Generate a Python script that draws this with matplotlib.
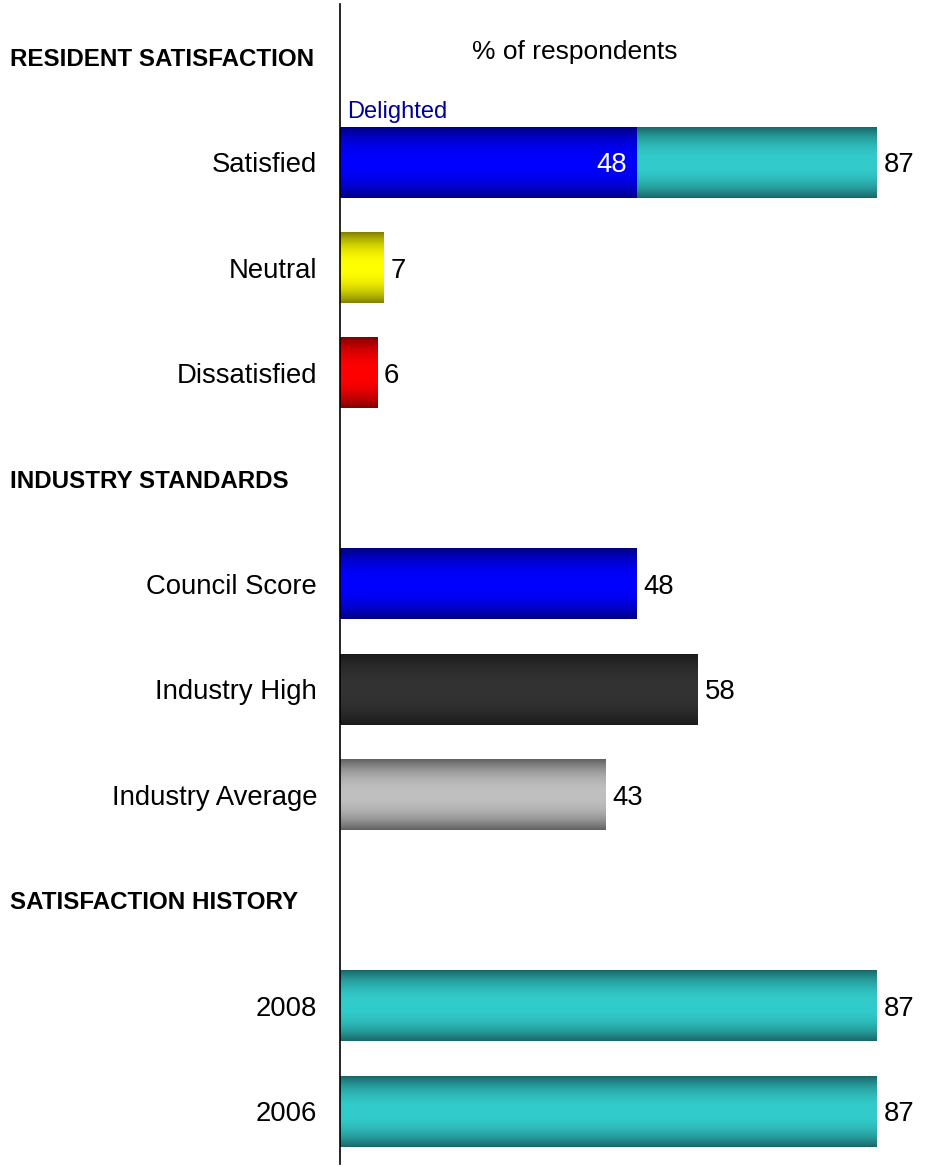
import numpy as np
import matplotlib
matplotlib.use("Agg")
import matplotlib.pyplot as plt
from matplotlib import transforms
from matplotlib.colors import to_rgb

plt.rcParams['font.family'] = ['Liberation Sans', 'DejaVu Sans']

# ---- data ----
sections = ["RESIDENT SATISFACTION", "INDUSTRY STANDARDS", "SATISFACTION HISTORY"]
satisfaction_labels = ["Satisfied", "Neutral", "Dissatisfied"]
satisfaction_values = [87, 7, 6]
delighted_value = 48
standards_labels = ["Council Score", "Industry High", "Industry Average"]
standards_values = [48, 58, 43]
history_labels = ["2008", "2006"]
history_values = [87, 87]

# (mid colour, edge colour) for the shaded bars
shades = {
    "blue":   ("#0000FF", "#000080"),
    "teal":   ("#33CCCC", "#196666"),
    "yellow": ("#FFFF00", "#808000"),
    "red":    ("#FF0000", "#800000"),
    "dark":   ("#333333", "#1A1A1A"),
    "grey":   ("#C0C0C0", "#606060"),
}

W, H = 934, 1167
fig = plt.figure(figsize=(W / 100, H / 100), dpi=100)
ax = fig.add_axes([340 / W, 3 / H, 586 / W, 1160 / H])

XMAX = 95
BAR_H = 0.67
FS = 19.8


def shade_bar(rect, key):
    mid, edge = (np.array(to_rgb(c)) for c in shades[key])
    t = np.linspace(0, 1, 256)
    w = 1 - np.abs(2 * t - 1) ** 2.2
    img = edge[None, :] + (mid - edge)[None, :] * w[:, None]
    x0, y0 = rect.get_x(), rect.get_y()
    ax.imshow(img[:, None, :], extent=(x0, x0 + rect.get_width(), y0 + rect.get_height(), y0),
              aspect='auto', interpolation='bilinear', zorder=2)


# slot layout: heading, rows, heading, rows ...
rows = []  # (y, label, value, colour)
heading_y = []
y = 0
for name, labels, values, colours in [
    (sections[0], satisfaction_labels, satisfaction_values, ["teal", "yellow", "red"]),
    (sections[1], standards_labels, standards_values, ["blue", "dark", "grey"]),
    (sections[2], history_labels, history_values, ["teal", "teal"]),
]:
    heading_y.append(y)
    y += 1
    for lab, val, col in zip(labels, values, colours):
        rows.append((y, lab, val, col))
        y += 1


def offset(dx_px, dy_px=0):
    return ax.transData + transforms.ScaledTranslation(dx_px / 100, dy_px / 100, fig.dpi_scale_trans)


ypos = [r[0] for r in rows]
bars = ax.barh(ypos, [r[2] for r in rows], height=BAR_H, color='none', zorder=1)
for rect, r in zip(bars, rows):
    shade_bar(rect, r[3])
    ax.text(r[2], r[0], f"{r[2]}", ha='left', va='center_baseline', fontsize=FS,
            transform=offset(7))

# delighted portion of the "Satisfied" bar
sat_y = rows[0][0]
dbar = ax.barh([sat_y], [delighted_value], height=BAR_H, color='none', zorder=1)
shade_bar(dbar[0], "blue")
ax.text(delighted_value, sat_y, f"{delighted_value}", ha='right', va='center_baseline', fontsize=FS,
        color='white', zorder=5, transform=offset(-9))
ax.text(0, sat_y - 0.5, "Delighted", ha='left', va='center_baseline', fontsize=17, color='#000099',
        transform=offset(7))

ax.text(38, heading_y[0], "% of respondents", ha='center', va='center_baseline', fontsize=19,
        transform=offset(0, 7))

# section headings at the left of the figure
blend = transforms.blended_transform_factory(fig.transFigure, ax.transData)
for hy, name in zip(heading_y, sections):
    ax.text(10 / W, hy, name, ha='left', va='center_baseline', fontsize=17.4, fontweight='bold',
            transform=blend)

ax.set_yticks(ypos, [r[1] for r in rows], fontsize=FS)
for lbl in ax.get_yticklabels():
    lbl.set_verticalalignment('center_baseline')
ax.tick_params(axis='y', length=0, pad=16.5)
ax.set_xticks([])
ax.set_xlim(0, XMAX)
ax.set_ylim(y - 0.5, -0.5)
for s in ["top", "right", "bottom"]:
    ax.spines[s].set_visible(False)
ax.spines["left"].set_linewidth(1.2)
ax.spines["left"].set_zorder(6)

fig.savefig("out.png", dpi=100)
